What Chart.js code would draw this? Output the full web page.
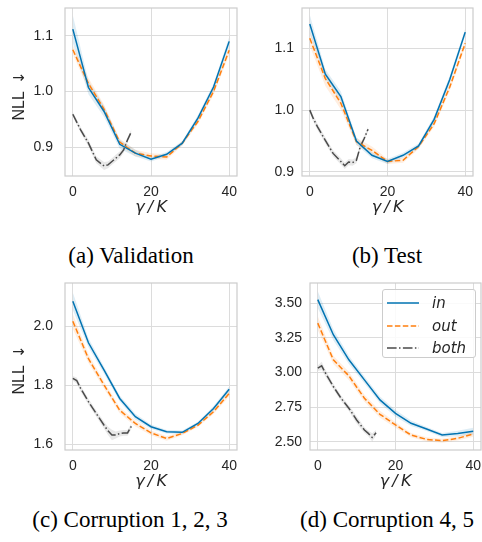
<!DOCTYPE html>
<html>
<head>
<meta charset="utf-8">
<script src="https://cdn.jsdelivr.net/npm/chart.js@4.4.0/dist/chart.umd.min.js"></script>
<style>
  body { margin: 0; background: #fff; width: 482px; height: 542px; position: relative; overflow: hidden; }
  .panel { position: absolute; width: 241px; height: 225px; }
  .cap { position: absolute; font-family: "Liberation Serif", "Times New Roman", serif; font-size: 23px;
         color: #000; transform: translateX(-50%); white-space: nowrap; line-height: 1; }
  .ylab { position: absolute; font-family: "Liberation Sans", sans-serif; font-size: 16px; color: #262626;
          white-space: nowrap; line-height: 1; transform: translate(-50%, -50%) rotate(-90deg); }
  .ylab .arr { font-family: "DejaVu Sans", sans-serif; font-size: 15px; margin-left: 7px; }
  #legend { position: absolute; left: 382px; top: 289px; width: 94px; height: 69px; box-sizing: border-box;
            border: 1px solid #cccccc; border-radius: 3px; background: rgba(255,255,255,0.85); }
  #legend .row { position: absolute; left: 4px; height: 20px; display: flex; align-items: center; }
  #legend svg { width: 32px; height: 10px; margin-right: 13px; }
  #legend span { font-family: "DejaVu Sans", sans-serif; font-style: italic; font-size: 15px; color: #262626; }
</style>
</head>
<body>
<div class="panel" style="left:0;top:0"><canvas id="chart-a" width="241" height="225"></canvas></div>
<div class="panel" style="left:241px;top:0"><canvas id="chart-b" width="241" height="225"></canvas></div>
<div class="panel" style="left:0;top:275px"><canvas id="chart-c" width="241" height="225"></canvas></div>
<div class="panel" style="left:241px;top:275px"><canvas id="chart-d" width="241" height="225"></canvas></div>

<div class="ylab" style="left:19px;top:96px">NLL<span class="arr">↓</span></div>
<div class="ylab" style="left:19px;top:370px">NLL<span class="arr">↓</span></div>

<div class="cap" style="left:131px;top:244px">(a) Validation</div>
<div class="cap" style="left:387px;top:244px">(b) Test</div>
<div class="cap" style="left:130px;top:508px">(c) Corruption 1, 2, 3</div>
<div class="cap" style="left:387px;top:508px">(d) Corruption 4, 5</div>

<div id="legend"></div>

<script>
// valores
const gammaX = [0, 4, 8, 12, 16, 20, 24, 28, 32, 36, 40];
const bothX = [0, 1, 2, 4, 6, 8, 9, 10, 11, 12, 13, 14, 15];
const seriesNames = ['in', 'out', 'both'];

// (a) Validation
const inA = [1.112, 1.007, 0.964, 0.905, 0.889, 0.878, 0.887, 0.907, 0.952, 1.008, 1.090];
const outA = [1.075, 1.014, 0.968, 0.909, 0.889, 0.884, 0.882, 0.907, 0.946, 1.000, 1.074];
const bothA = [0.959, 0.945, 0.931, 0.907, 0.877, 0.866, 0.868, 0.874, 0.880, 0.886, 0.895, 0.913, 0.928];
const inBandA = [0.025, 0.012, 0.010, 0.008, 0.006, 0.004, 0.004, 0.004, 0.005, 0.006, 0.008];
const outBandA = [0.008, 0.010, 0.008, 0.006, 0.006, 0.005, 0.005, 0.004, 0.005, 0.006, 0.008];
const bothBandA = [0.004, 0.005, 0.005, 0.006, 0.006, 0.007, 0.006, 0.006, 0.006, 0.006, 0.005, 0.004, 0.004];

// (b) Test
const inB = [1.139, 1.058, 1.022, 0.950, 0.927, 0.917, 0.927, 0.942, 0.985, 1.049, 1.126];
const outB = [1.116, 1.051, 1.011, 0.949, 0.935, 0.917, 0.919, 0.941, 0.978, 1.037, 1.108];
const bothB = [1.000, 0.985, 0.973, 0.951, 0.930, 0.917, 0.910, 0.916, 0.915, 0.919, 0.941, 0.954, 0.969];
const inBandB = [0.015, 0.008, 0.008, 0.006, 0.005, 0.004, 0.004, 0.004, 0.005, 0.006, 0.006];
const outBandB = [0.012, 0.012, 0.010, 0.006, 0.006, 0.004, 0.004, 0.004, 0.005, 0.006, 0.006];
const bothBandB = [0.004, 0.005, 0.005, 0.005, 0.005, 0.005, 0.005, 0.005, 0.005, 0.005, 0.005, 0.004, 0.004];

// (c) Corruption 1, 2, 3
const inC = [2.085, 1.944, 1.851, 1.755, 1.693, 1.659, 1.642, 1.640, 1.670, 1.721, 1.786];
const outC = [2.017, 1.890, 1.800, 1.715, 1.670, 1.638, 1.619, 1.636, 1.664, 1.710, 1.772];
const bothC = [1.823, 1.816, 1.789, 1.744, 1.704, 1.664, 1.645, 1.631, 1.631, 1.636, 1.638, 1.638, 1.661];
const inBandC = [0.030, 0.015, 0.012, 0.010, 0.010, 0.008, 0.006, 0.006, 0.006, 0.008, 0.010];
const outBandC = [0.025, 0.015, 0.012, 0.010, 0.010, 0.008, 0.008, 0.006, 0.006, 0.008, 0.010];
const bothBandC = [0.008, 0.010, 0.010, 0.010, 0.010, 0.012, 0.014, 0.018, 0.012, 0.010, 0.010, 0.010, 0.010];

// (d) Corruption 4, 5
const inD = [3.527, 3.273, 3.092, 2.947, 2.802, 2.705, 2.633, 2.592, 2.548, 2.560, 2.575];
const outD = [3.357, 3.092, 2.976, 2.814, 2.698, 2.621, 2.548, 2.517, 2.507, 2.524, 2.556];
const bothD = [3.031, 3.048, 2.995, 2.899, 2.814, 2.742, 2.700, 2.657, 2.621, 2.585, 2.560, 2.531, 2.565];
const inBandD = [0.060, 0.040, 0.030, 0.025, 0.025, 0.025, 0.020, 0.015, 0.015, 0.020, 0.025];
const outBandD = [0.050, 0.030, 0.030, 0.025, 0.025, 0.020, 0.015, 0.015, 0.015, 0.015, 0.020];
const bothBandD = [0.020, 0.030, 0.025, 0.020, 0.020, 0.020, 0.025, 0.025, 0.025, 0.020, 0.020, 0.030, 0.020];

// estilo
const COLORS = ['#0173b2', '#ff7f0e', '#4a4a4a'];
const BANDS = ['rgba(1,115,178,0.13)', 'rgba(255,127,14,0.13)', 'rgba(74,74,74,0.13)'];
const DASHES = [[], [5.5, 2.4], [9.6, 2.4, 1.5, 2.4]];
const TEXT = '#262626';
const GRID = '#dcdcdc';

// moldura (spines) em volta da área do gráfico
const framePlugin = {
  id: 'frame',
  afterDraw(chart) {
    const { ctx, chartArea: a } = chart;
    ctx.save();
    ctx.strokeStyle = '#cccccc';
    ctx.lineWidth = 1.2;
    ctx.strokeRect(a.left, a.top, a.right - a.left, a.bottom - a.top);
    ctx.restore();
  }
};

function pts(xs, ys, off, sign) {
  return xs.map((x, i) => ({ x: x, y: ys[i] + (off ? sign * off[i] : 0) }));
}

function seriesSets(xs, ys, band, k) {
  return [
    { data: pts(xs, ys, band, 1), borderWidth: 0, pointRadius: 0, backgroundColor: BANDS[k], fill: '+1', order: 3 },
    { data: pts(xs, ys, band, -1), borderWidth: 0, pointRadius: 0, fill: false, order: 3 },
    { label: seriesNames[k], data: pts(xs, ys), borderColor: COLORS[k], borderWidth: 1.5,
      borderDash: DASHES[k], pointRadius: 0, fill: false, tension: 0, order: 1 }
  ];
}

function desenharPainel(id, s, lay) {
  const ctx = document.getElementById(id).getContext('2d');
  const datasets = [].concat(
    seriesSets(gammaX, s.inY, s.inBand, 0),
    seriesSets(gammaX, s.outY, s.outBand, 1),
    seriesSets(bothX, s.bothY, s.bothBand, 2)
  );
  new Chart(ctx, {
    type: 'line',
    data: { datasets: datasets },
    options: {
      responsive: false, animation: false,
      layout: { padding: { left: 0, top: lay.top, right: lay.right, bottom: 0 } },
      plugins: { legend: { display: false }, tooltip: { enabled: false } },
      scales: {
        x: {
          type: 'linear', min: -2, max: 42,
          grid: { color: GRID, lineWidth: 1, drawTicks: false },
          border: { display: false },
          ticks: { stepSize: 20, includeBounds: false, padding: 8, color: TEXT, maxRotation: 0,
                   font: { family: 'Liberation Sans', size: 14 } },
          title: { display: true, text: 'γ\u2009/\u2009K', color: TEXT, padding: { top: 0, bottom: lay.xTitlePad },
                   font: { family: 'DejaVu Sans', size: 16, style: 'italic' } },
          afterFit(sc) { sc.height = lay.xHeight; sc.paddingLeft = 0; sc.paddingRight = 0; }
        },
        y: {
          type: 'linear', min: s.yMin, max: s.yMax,
          grid: { color: GRID, lineWidth: 1, drawTicks: false },
          border: { display: false },
          ticks: { stepSize: s.yStep, includeBounds: false, padding: lay.tickPad, color: TEXT,
                   font: { family: 'Liberation Sans', size: 14 },
                   callback: v => v.toFixed(s.dec) },
          afterFit(sc) { sc.width = lay.yWidth; sc.paddingTop = 0; sc.paddingBottom = 0; }
        }
      }
    },
    plugins: [framePlugin]
  });
}

desenharPainel('chart-a',
  { inY: inA, outY: outA, bothY: bothA, inBand: inBandA, outBand: outBandA, bothBand: bothBandA,
    yMin: 0.848, yMax: 1.150, yStep: 0.1, dec: 1 },
  { top: 8, right: 4, yWidth: 65, xHeight: 49, tickPad: 12, xTitlePad: 8 });

desenharPainel('chart-b',
  { inY: inB, outY: outB, bothY: bothB, inBand: inBandB, outBand: outBandB, bothBand: bothBandB,
    yMin: 0.8935, yMax: 1.165, yStep: 0.1, dec: 1 },
  { top: 8, right: 9, yWidth: 61, xHeight: 49, tickPad: 8, xTitlePad: 8 });

desenharPainel('chart-c',
  { inY: inC, outY: outC, bothY: bothC, inBand: inBandC, outBand: outBandC, bothBand: bothBandC,
    yMin: 1.58, yMax: 2.147, yStep: 0.2, dec: 1 },
  { top: 8, right: 4, yWidth: 65, xHeight: 50, tickPad: 12, xTitlePad: 9 });

desenharPainel('chart-d',
  { inY: inD, outY: outD, bothY: bothD, inBand: inBandD, outBand: outBandD, bothBand: bothBandD,
    yMin: 2.44, yMax: 3.647, yStep: 0.25, dec: 2 },
  { top: 8, right: 1, yWidth: 69, xHeight: 50, tickPad: 8, xTitlePad: 9 });

// legenda em HTML (painel d)
const legend = document.getElementById('legend');
const rowTops = [3, 26, 48];
seriesNames.forEach((name, k) => {
  const row = document.createElement('div');
  row.className = 'row';
  row.style.top = rowTops[k] + 'px';
  const dash = DASHES[k].length ? ' stroke-dasharray="' + DASHES[k].join(' ') + '"' : '';
  row.innerHTML = '<svg viewBox="0 0 32 10"><line x1="0" y1="5" x2="32" y2="5" stroke="' + COLORS[k] +
    '" stroke-width="1.5"' + dash + '/></svg><span>' + name + '</span>';
  legend.appendChild(row);
});
</script>
</body>
</html>
